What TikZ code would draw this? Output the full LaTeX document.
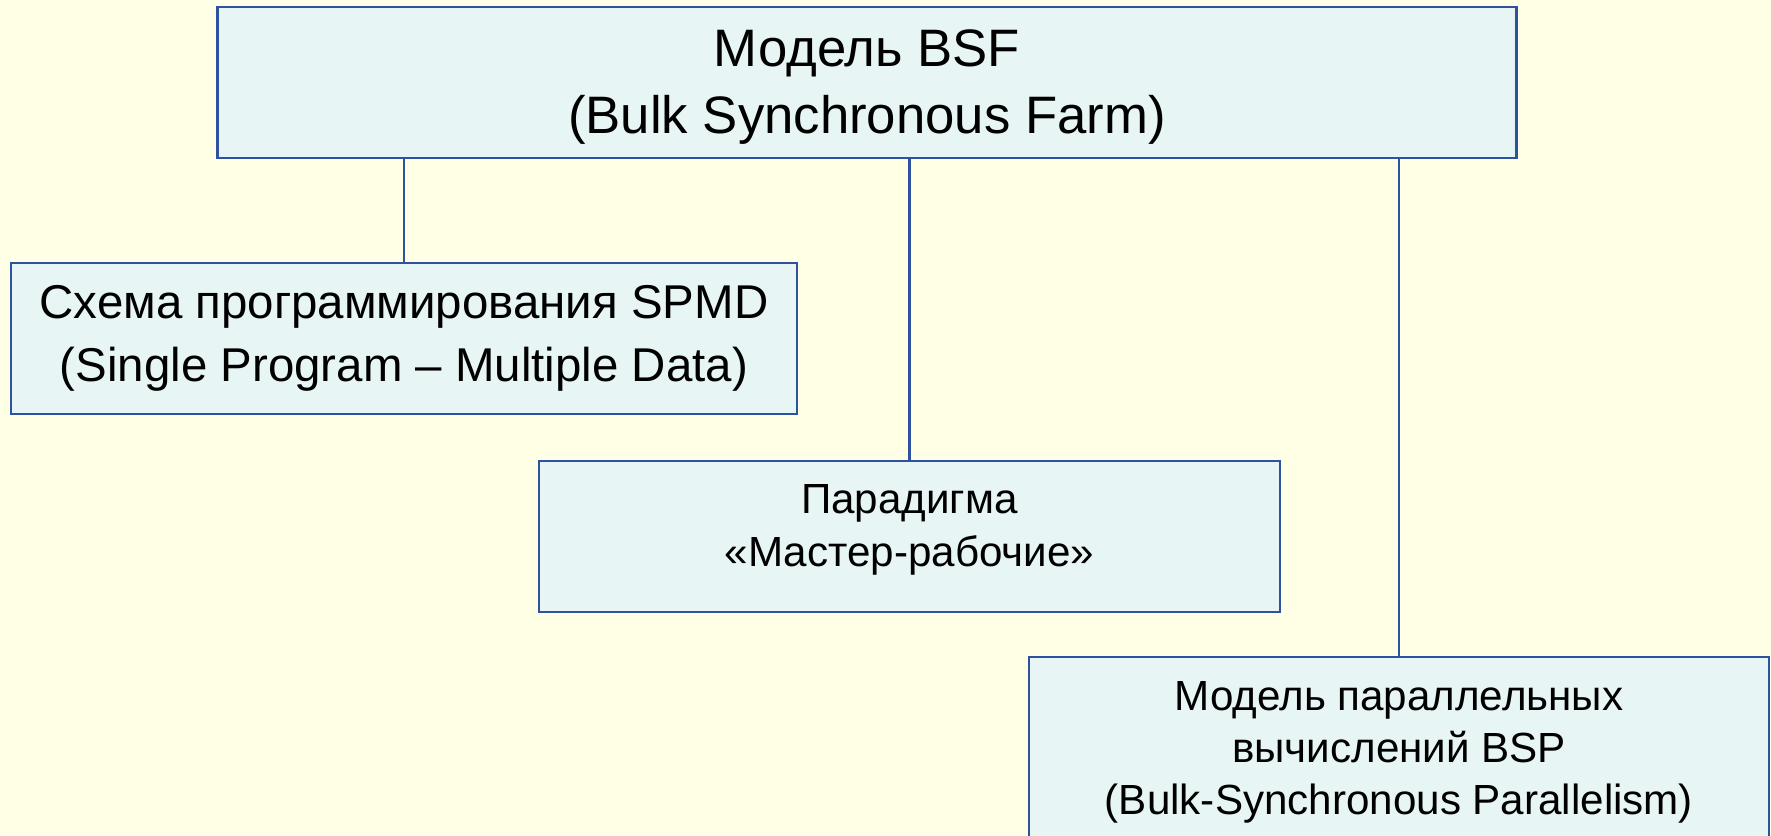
\documentclass[tikz,border=0pt]{standalone}
\usepackage{fontspec}
\setmainfont{Liberation Sans}
\usetikzlibrary{positioning}
\definecolor{slidebg}{RGB}{255,255,229}
\definecolor{boxfill}{RGB}{232,245,245}
\definecolor{boxline}{RGB}{47,82,160}

\tikzset{
  block/.style={draw=boxline,line width=1.6pt,fill=boxfill,align=center,inner sep=0pt},
  link/.style={draw=boxline,line width=1.3pt},
}

\begin{document}
\begin{tikzpicture}[x=0.02cm,y=-0.02cm]
            % slide background
            \fill[slidebg] (0,0) rectangle (1771,835);
            \useasboundingbox (0,0) rectangle (1771,835);
            \node[block,minimum width=26cm,minimum height=3.02cm,
                font=\fontsize{30}{38}\selectfont] (bsf) at (867,82.5)
                {\rule{0pt}{26.5pt}Модель BSF\\(Bulk Synchronous Farm)};
            \node[block,minimum width=15.72cm,minimum height=3.02cm,
                font=\fontsize{27}{35.5}\selectfont] (spmd) at (404,338.5)
                {Схема программирования SPMD\\(Single Program – Multiple Data)};
            \node[block,minimum width=14.82cm,minimum height=3.02cm,text depth=12.7pt,
                font=\fontsize{24}{30}\selectfont] (master) at (909.5,536.5)
                {Парадигма\\«Мастер-рабочие»};
            % runs past the lower edge of the page
            \node[block,minimum width=14.8cm,minimum height=3.76cm,
                font=\fontsize{24}{29.5}\selectfont] (bsp) at (1399,751)
                {\rule{0pt}{18pt}Модель параллельных\\вычислений BSP\\(Bulk-Synchronous Parallelism)};
            % connectors from the model down to its parts
            \foreach \part in {spmd,master,bsp}{
                \draw[link] (bsf.south -| \part.north) -- (\part.north);
            }
\end{tikzpicture}
\end{document}
